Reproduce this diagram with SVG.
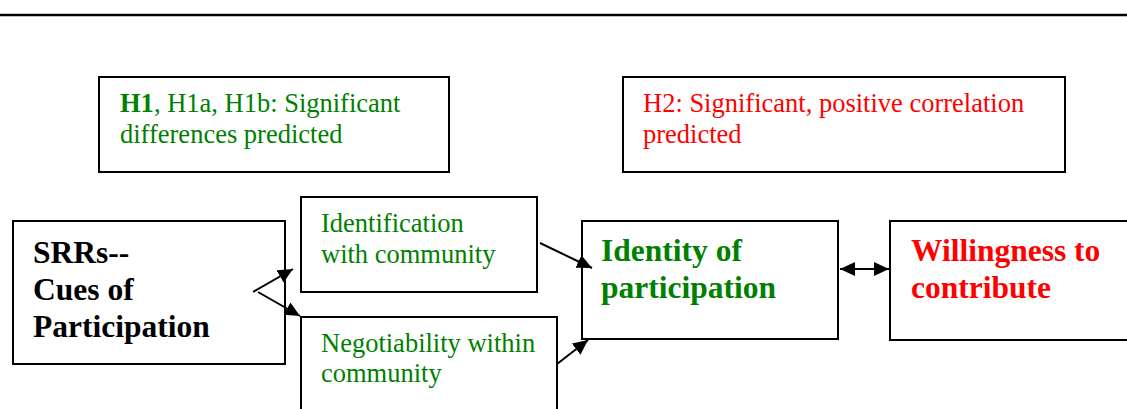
<svg xmlns="http://www.w3.org/2000/svg" width="1127" height="409" viewBox="0 0 1127 409">
<style>
  .box{fill:#fff;stroke:#000;stroke-width:2}
  .reg{font-size:26.5px}
  .bold{font-size:31.5px;font-weight:bold}
  .g{fill:#008000}
  .r{fill:#ff0000}
  .k{fill:#000}
  .conn{stroke:#000;stroke-width:2;fill:none}
</style>
<defs>
  <marker id="ah" markerUnits="userSpaceOnUse" markerWidth="16" markerHeight="15" refX="15" refY="7" orient="auto-start-reverse">
    <path d="M0,0 L15,7 L0,14 z" fill="#000"/>
  </marker>
</defs>
<rect width="1127" height="409" fill="#fff"/>
<line x1="0" y1="15" x2="1127" y2="15" stroke="#000" stroke-width="2.5"/>

<g font-family="Liberation Serif">
<g id="h1">
  <rect class="box" x="99" y="77" width="350" height="95"/>
  <text class="reg g" x="120" y="112"><tspan font-weight="bold">H1</tspan>, H1a, H1b: Significant</text>
  <text class="reg g" x="120" y="143">differences predicted</text>
</g>
<g id="h2">
  <rect class="box" x="623" y="77" width="442" height="95"/>
  <text class="reg r" x="643" y="112">H2: Significant, positive correlation</text>
  <text class="reg r" x="643" y="143">predicted</text>
</g>
<g id="srrs">
  <rect class="box" x="13" y="221" width="272" height="143"/>
  <text class="bold k" x="33" y="263">SRRs--</text>
  <text class="bold k" x="33" y="300">Cues of</text>
  <text class="bold k" x="33" y="337">Participation</text>
</g>
<g id="identification">
  <rect class="box" x="301" y="197" width="236" height="95"/>
  <text class="reg g" x="321" y="232">Identification</text>
  <text class="reg g" x="321" y="263">with community</text>
</g>
<g id="negotiability">
  <rect class="box" x="301" y="317" width="256" height="110"/>
  <text class="reg g" x="321" y="352">Negotiability within</text>
  <text class="reg g" x="321" y="382">community</text>
</g>
<g id="identity">
  <rect class="box" x="582" y="221" width="256" height="118"/>
  <text class="bold g" x="601" y="261">Identity of</text>
  <text class="bold g" x="601" y="298">participation</text>
</g>
<g id="willingness">
  <rect class="box" x="890" y="221" width="250" height="119"/>
  <text class="bold r" x="911" y="261">Willingness to</text>
  <text class="bold r" x="911" y="298">contribute</text>
</g>
</g>

<g id="connectors">
  <line class="conn" x1="253" y1="292" x2="293" y2="269" marker-end="url(#ah)"/>
  <line class="conn" x1="258" y1="292" x2="300" y2="316" marker-end="url(#ah)"/>
  <line class="conn" x1="540" y1="243" x2="592" y2="268" marker-end="url(#ah)"/>
  <line class="conn" x1="557" y1="364" x2="588" y2="340" marker-end="url(#ah)"/>
  <line class="conn" x1="840" y1="269" x2="889" y2="269" marker-start="url(#ah)" marker-end="url(#ah)"/>
</g>
</svg>
